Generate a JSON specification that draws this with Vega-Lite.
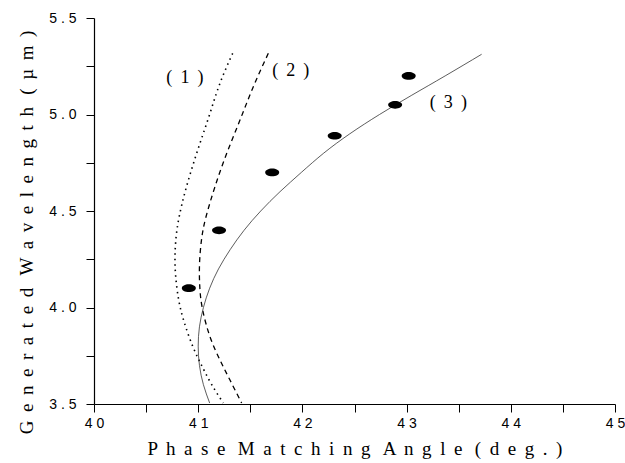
{
  "$schema": "https://vega.github.io/schema/vega-lite/v6.json",
  "width": 521,
  "height": 386,
  "autosize": {"type": "none"},
  "padding": {"left": 94, "top": 18, "right": 10, "bottom": 59},
  "background": "white",
  "config": {
    "view": {"stroke": null},
    "axis": {
      "grid": false,
      "domainColor": "black",
      "domainWidth": 1.2,
      "tickColor": "black",
      "tickWidth": 1,
      "tickSize": 8,
      "labelFont": "Liberation Sans",
      "labelFontSize": 14,
      "labelColor": "black",
      "titleFont": "Liberation Serif",
      "titleFontSize": 19,
      "titleFontWeight": "normal",
      "titleColor": "black"
    }
  },
  "datasets": {
    "c1": [
      {"i": 1, "x": 41.331, "y": 5.317},
      {"i": 2, "x": 41.209, "y": 5.162},
      {"i": 3, "x": 41.113, "y": 5.006},
      {"i": 4, "x": 41.017, "y": 4.851},
      {"i": 5, "x": 40.925, "y": 4.695},
      {"i": 6, "x": 40.846, "y": 4.540},
      {"i": 7, "x": 40.796, "y": 4.402},
      {"i": 8, "x": 40.778, "y": 4.282},
      {"i": 9, "x": 40.783, "y": 4.168},
      {"i": 10, "x": 40.813, "y": 4.039},
      {"i": 11, "x": 40.865, "y": 3.925},
      {"i": 12, "x": 40.949, "y": 3.797},
      {"i": 13, "x": 41.039, "y": 3.693},
      {"i": 14, "x": 41.130, "y": 3.600},
      {"i": 15, "x": 41.241, "y": 3.505}
    ],
    "c2": [
      {"i": 1, "x": 41.673, "y": 5.317},
      {"i": 2, "x": 41.529, "y": 5.144},
      {"i": 3, "x": 41.401, "y": 4.971},
      {"i": 4, "x": 41.274, "y": 4.799},
      {"i": 5, "x": 41.161, "y": 4.626},
      {"i": 6, "x": 41.075, "y": 4.470},
      {"i": 7, "x": 41.034, "y": 4.360},
      {"i": 8, "x": 41.013, "y": 4.230},
      {"i": 9, "x": 41.016, "y": 4.100},
      {"i": 10, "x": 41.043, "y": 3.987},
      {"i": 11, "x": 41.113, "y": 3.849},
      {"i": 12, "x": 41.209, "y": 3.728},
      {"i": 13, "x": 41.305, "y": 3.624},
      {"i": 14, "x": 41.417, "y": 3.505}
    ],
    "c3": [
      {"i": 1, "x": 41.110, "y": 3.505},
      {"i": 2, "x": 41.050, "y": 3.600},
      {"i": 3, "x": 41.012, "y": 3.700},
      {"i": 4, "x": 41.000, "y": 3.800},
      {"i": 5, "x": 41.012, "y": 3.900},
      {"i": 6, "x": 41.050, "y": 4.000},
      {"i": 7, "x": 41.110, "y": 4.100},
      {"i": 8, "x": 41.195, "y": 4.200},
      {"i": 9, "x": 41.307, "y": 4.300},
      {"i": 10, "x": 41.440, "y": 4.400},
      {"i": 11, "x": 41.600, "y": 4.500},
      {"i": 12, "x": 41.785, "y": 4.600},
      {"i": 13, "x": 41.990, "y": 4.700},
      {"i": 14, "x": 42.205, "y": 4.800},
      {"i": 15, "x": 42.455, "y": 4.900},
      {"i": 16, "x": 42.740, "y": 5.000},
      {"i": 17, "x": 43.050, "y": 5.100},
      {"i": 18, "x": 43.370, "y": 5.200},
      {"i": 19, "x": 43.720, "y": 5.312}
    ],
    "pts": [
      {"x": 40.91, "y": 4.10},
      {"x": 41.20, "y": 4.40},
      {"x": 41.71, "y": 4.70},
      {"x": 42.31, "y": 4.89},
      {"x": 42.89, "y": 5.05},
      {"x": 43.02, "y": 5.20}
    ],
    "labels": [
      {"x": 40.873, "y": 5.188, "t": "( \u20091 \u2009)"},
      {"x": 41.888, "y": 5.227, "t": "( \u20092 \u2009)"},
      {"x": 43.40, "y": 5.058, "t": "( \u20093 \u2009)"}
    ]
  },
  "layer": [
    {
      "data": {"name": "c1"},
      "mark": {"type": "line", "interpolate": "natural", "color": "black", "strokeWidth": 1.6, "strokeDash": [1.5, 4], "clip": true},
      "encoding": {
        "x": {"field": "x", "type": "quantitative", "scale": {"domain": [40, 45], "nice": false, "zero": false},
          "axis": {"values": [40, 40.5, 41, 41.5, 42, 42.5, 43, 43.5, 44, 44.5, 45],
            "labelExpr": "datum.value % 1 == 0 ? join(split(format(datum.value, 'd'), ''), ' ') : ''",
            "labelPadding": 4, "labelFlush": false, "labelOverlap": false,
            "title": "P \u2009h \u2009a \u2009s \u2009e \u2009\u2009M \u2009a \u2009t \u2009c \u2009h \u2009i \u2009n \u2009g \u2009\u2009A \u2009n \u2009g \u2009l \u2009e \u2009\u2009( \u2009d \u2009e \u2009g \u2009. \u2009)", "titlePadding": 9}},
        "y": {"field": "y", "type": "quantitative", "scale": {"domain": [3.5, 5.5], "nice": false, "zero": false},
          "axis": {"values": [3.5, 3.75, 4, 4.25, 4.5, 4.75, 5, 5.25, 5.5],
            "labelExpr": "round(datum.value * 100) % 50 == 0 ? join(split(format(datum.value, '.1f'), ''), ' ') : ''",
            "labelPadding": 10, "labelFlush": false, "labelOverlap": false,
            "title": "G \u2009e \u2009n \u2009e \u2009r \u2009a \u2009t \u2009e \u2009d \u2009\u2009W \u2009a \u2009v \u2009e \u2009l \u2009e \u2009n \u2009g \u2009t \u2009h \u2009\u2009( \u2009µ \u2009m \u2009)",
            "titleAngle": 270, "titleX": -68, "titleY": 214, "titleAlign": "center", "titleBaseline": "middle"}},
        "order": {"field": "i", "type": "quantitative"}
      }
    },
    {
      "data": {"name": "c2"},
      "mark": {"type": "line", "interpolate": "natural", "color": "black", "strokeWidth": 1.3, "strokeDash": [5, 4], "clip": true},
      "encoding": {
        "x": {"field": "x", "type": "quantitative"},
        "y": {"field": "y", "type": "quantitative"},
        "order": {"field": "i", "type": "quantitative"}
      }
    },
    {
      "data": {"name": "c3"},
      "mark": {"type": "line", "interpolate": "natural", "color": "#333333", "strokeWidth": 0.8, "clip": true},
      "encoding": {
        "x": {"field": "x", "type": "quantitative"},
        "y": {"field": "y", "type": "quantitative"},
        "order": {"field": "i", "type": "quantitative"}
      }
    },
    {
      "data": {"name": "pts"},
      "mark": {"type": "point", "filled": true, "color": "black", "opacity": 1, "size": 196,
        "shape": "M -1 0 A 1 0.55 0 1 0 1 0 A 1 0.55 0 1 0 -1 0 Z"},
      "encoding": {
        "x": {"field": "x", "type": "quantitative"},
        "y": {"field": "y", "type": "quantitative"}
      }
    },
    {
      "data": {"name": "labels"},
      "mark": {"type": "text", "font": "Liberation Serif", "fontSize": 18, "color": "black", "align": "center", "baseline": "middle"},
      "encoding": {
        "x": {"field": "x", "type": "quantitative"},
        "y": {"field": "y", "type": "quantitative"},
        "text": {"field": "t"}
      }
    }
  ]
}
